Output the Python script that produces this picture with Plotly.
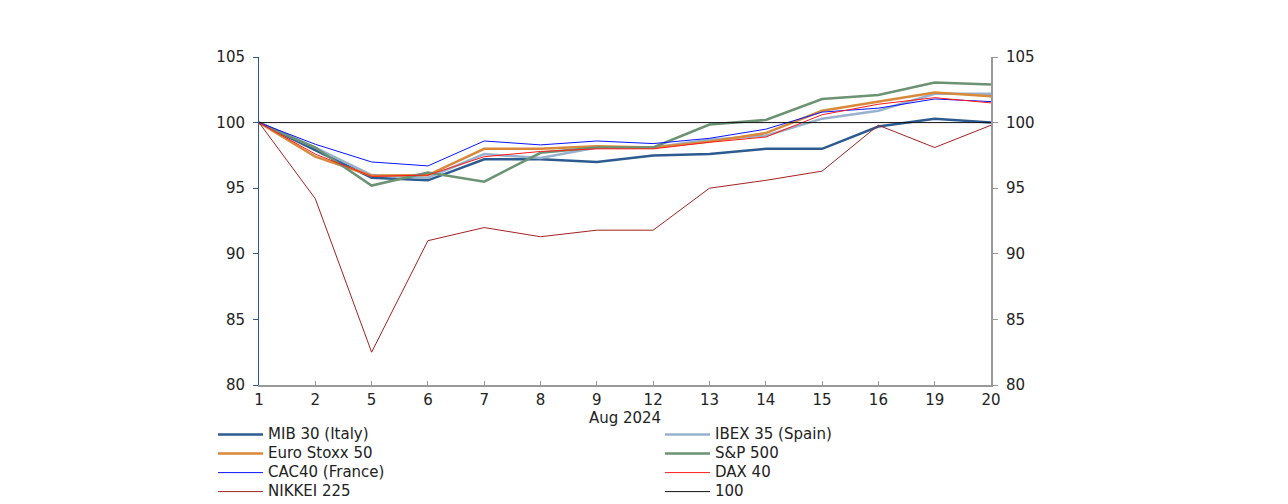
import plotly.graph_objects as go

days = ["1", "2", "5", "6", "7", "8", "9", "12", "13", "14", "15", "16", "19", "20"]

mib30 = [100, 97.9, 95.8, 95.6, 97.2, 97.2, 97.0, 97.5, 97.6, 98.0, 98.0, 99.7, 100.3, 100.0]
ibex35 = [100, 98.1, 96.0, 95.8, 97.6, 97.3, 98.1, 98.1, 98.7, 99.0, 100.3, 100.9, 102.2, 102.2]
eurostoxx50 = [100, 97.4, 95.95, 96.0, 98.0, 98.0, 98.2, 98.1, 98.55, 99.2, 100.9, 101.6, 102.3, 102.0]
sp500 = [100, 98.1, 95.2, 96.2, 95.5, 97.7, 98.1, 98.1, 99.85, 100.2, 101.8, 102.1, 103.05, 102.9]
cac40 = [100, 98.35, 97.0, 96.7, 98.6, 98.3, 98.6, 98.4, 98.8, 99.5, 100.8, 101.1, 101.8, 101.6]
dax40 = [100, 97.6, 95.9, 96.0, 97.4, 97.8, 98.0, 98.0, 98.5, 98.9, 100.6, 101.4, 101.9, 101.5]
nikkei225 = [100, 94.2, 82.5, 91.0, 92.0, 91.3, 91.8, 91.8, 95.0, 95.6, 96.3, 99.8, 98.1, 99.8]
ref100 = [100] * len(days)

yticks = [80, 85, 90, 95, 100, 105]

series = [
    ("MIB 30 (Italy)", mib30, "#2d5b90", 2.5, "y"),
    ("IBEX 35 (Spain)", ibex35, "#98b1cd", 2.5, "y"),
    ("Euro Stoxx 50", eurostoxx50, "#d8893a", 2.5, "y"),
    ("S&P 500", sp500, "#6b9373", 2.5, "y"),
    ("CAC40 (France)", cac40, "#0a14ff", 1, "y"),
    ("DAX 40", dax40, "#ff1a1a", 1, "y"),
    ("NIKKEI 225", nikkei225, "#a32222", 1, "y"),
    ("100", ref100, "#111111", 1, "y2"),
]

fam = "DejaVu Sans, Arial, sans-serif"

fig = go.Figure()
for name, vals, color, w, ax in series:
    fig.add_trace(go.Scatter(
        x=days, y=vals, mode="lines", yaxis=ax,
        name="<span style='font-size:15px'>" + name + "</span>",
        line=dict(color=color, width=w)))

fig.update_layout(
    width=1288, height=504,
    margin=dict(l=259, r=297, t=57, b=119, autoexpand=False),
    paper_bgcolor="white", plot_bgcolor="white",
    font=dict(family=fam, size=15, color="#222222"),
    showlegend=True,
    legend=dict(orientation="h", x=-0.0628, xanchor="left", y=-0.107, yanchor="top",
                entrywidth=387, entrywidthmode="pixels",
                font=dict(family=fam, size=12, color="#222222"),
                tracegroupgap=0, itemwidth=45, bgcolor="rgba(0,0,0,0)"),
    xaxis=dict(type="category", range=[0, 13], showgrid=False,
               showline=True, linecolor="#999999", linewidth=2,
               ticks="inside", ticklen=4, tickcolor="#999999",
               title=dict(text="Aug 2024", standoff=1, font=dict(family=fam, size=15)),
               tickfont=dict(family=fam, size=15)),
    yaxis=dict(range=[80, 105], tickvals=yticks, showgrid=False,
               showline=True, linecolor="#2d5b90", linewidth=1,
               ticks="outside", ticklen=5, tickcolor="#2d5b90", zeroline=False,
               ticklabelstandoff=5, tickfont=dict(family=fam, size=15)),
    yaxis2=dict(range=[80, 105], tickvals=yticks, overlaying="y",
                side="right", showgrid=False, showline=True, linecolor="#999999",
                linewidth=2, ticks="outside", ticklen=5, tickcolor="#999999",
                zeroline=False, ticklabelstandoff=5, tickfont=dict(family=fam, size=15)),
)

fig.write_html("out.html", config={"displayModeBar": False},
               post_script="document.body.style.margin='0px';")
